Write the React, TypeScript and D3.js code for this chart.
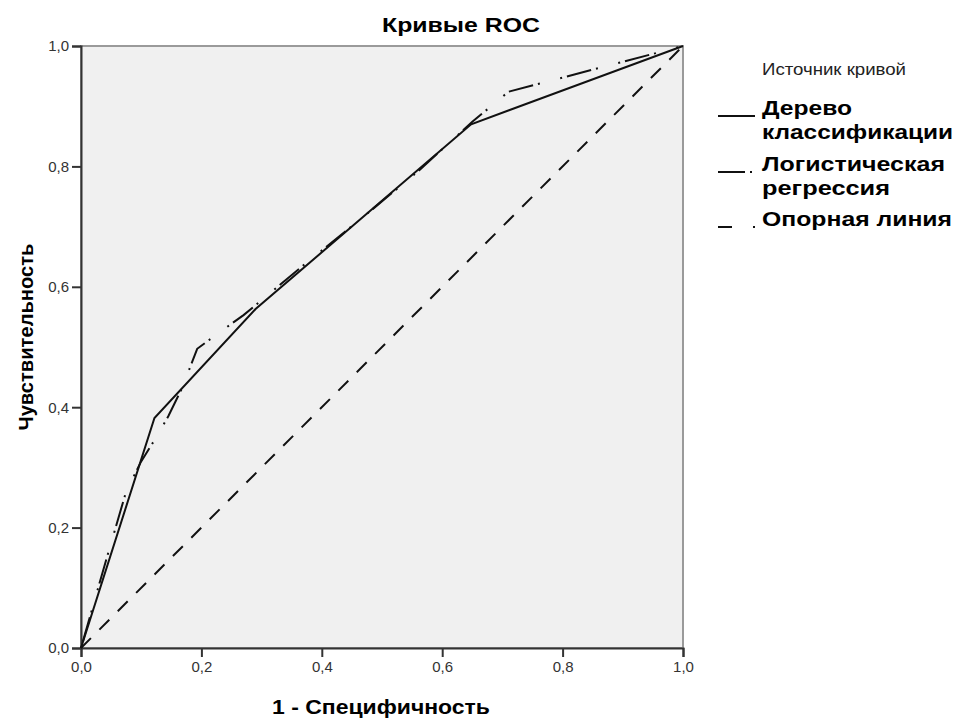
import { useRef, useEffect } from "react";
import * as d3 from "d3";

// ROC points
const treeFpr = [0, 0.122, 0.29, 0.648, 1];
const treeTpr = [0, 0.382, 0.563, 0.87, 1];
const logitFpr = [0, 0.04, 0.075, 0.1, 0.125, 0.145, 0.168, 0.193, 0.231, 0.27, 0.37, 0.47, 0.56, 0.65, 0.71, 1];
const logitTpr = [0, 0.14, 0.26, 0.31, 0.35, 0.385, 0.432, 0.497, 0.525, 0.553, 0.636, 0.717, 0.792, 0.874, 0.924, 1];
const refFpr = [0, 1];
const refTpr = [0, 1];
const tickValues = [0, 0.2, 0.4, 0.6, 0.8, 1];
const legendTitle = "Источник кривой";
const legendItems = [
  { lines: ["Дерево", "классификации"], dash: "none", sampleDash: "none" },
  { lines: ["Логистическая", "регрессия"], dash: "2,5,25,5,2,21", sampleDash: "27,5,2,10" },
  { lines: ["Опорная линия"], dash: "14,12", sampleDash: "14,21,2" },
];

const FONT = "'Liberation Sans', Arial, sans-serif";

const App = () => {
  const svgRef = useRef(null);

  useEffect(() => {
    const width = 960;
    const height = 719;
    const svg = d3.select(svgRef.current).attr("width", width).attr("height", height);
    svg.selectAll("*").remove();

    // scaling
    const xScale = d3.scaleLinear().domain([0, 1]).range([81, 683]);
    const yScale = d3.scaleLinear().domain([0, 1]).range([648, 46]);
    const fmt = (d) => d3.format(".1f")(d).replace(".", ",");

    // plot background + grey frame on top / right
    svg
      .append("rect")
      .attr("x", xScale(0))
      .attr("y", yScale(1))
      .attr("width", xScale(1) - xScale(0))
      .attr("height", yScale(0) - yScale(1))
      .attr("fill", "#f0f0f0")
      .attr("stroke", "#9a9a9a")
      .attr("stroke-width", 2);

    // axes
    const xAxis = d3.axisBottom(xScale).tickValues(tickValues).tickFormat(fmt).tickSize(9).tickPadding(4);
    const yAxis = d3.axisLeft(yScale).tickValues(tickValues).tickFormat(fmt).tickSize(9).tickPadding(3);
    const gx = svg.append("g").attr("transform", `translate(0,${yScale(0)})`).call(xAxis);
    const gy = svg.append("g").attr("transform", `translate(${xScale(0)},0)`).call(yAxis);
    [gx, gy].forEach((g) => {
      g.select(".domain").attr("stroke", "#333").attr("stroke-width", 2);
      g.selectAll(".tick line").attr("stroke", "#333").attr("stroke-width", 2);
      g.selectAll(".tick text").attr("fill", "#333").style("font-family", FONT).style("font-size", "15px");
    });

    // curves
    const line = d3
      .line()
      .x((d) => xScale(d[0]))
      .y((d) => yScale(d[1]));
    const series = [
      { pts: d3.zip(refFpr, refTpr), dash: legendItems[2].dash },
      { pts: d3.zip(logitFpr, logitTpr), dash: legendItems[1].dash },
      { pts: d3.zip(treeFpr, treeTpr), dash: legendItems[0].dash },
    ];
    svg
      .selectAll(".curve")
      .data(series)
      .join("path")
      .attr("class", "curve")
      .attr("d", (d) => line(d.pts))
      .attr("fill", "none")
      .attr("stroke", "#111")
      .attr("stroke-width", 2)
      .attr("stroke-dasharray", (d) => d.dash);

    // titles
    svg
      .append("text")
      .attr("x", 461)
      .attr("y", 32)
      .attr("text-anchor", "middle")
      .attr("textLength", 158)
      .attr("lengthAdjust", "spacingAndGlyphs")
      .style("font-family", FONT)
      .style("font-weight", "bold")
      .style("font-size", "21px")
      .text("Кривые ROC");
    svg
      .append("text")
      .attr("x", 381)
      .attr("y", 714)
      .attr("text-anchor", "middle")
      .attr("textLength", 218)
      .attr("lengthAdjust", "spacingAndGlyphs")
      .style("font-family", FONT)
      .style("font-weight", "bold")
      .style("font-size", "21px")
      .text("1 - Специфичность");
    svg
      .append("text")
      .attr("transform", "translate(33,337) rotate(-90)")
      .attr("text-anchor", "middle")
      .attr("textLength", 187)
      .attr("lengthAdjust", "spacingAndGlyphs")
      .style("font-family", FONT)
      .style("font-weight", "bold")
      .style("font-size", "21px")
      .text("Чувствительность");

    // legend
    const lg = svg.append("g");
    lg.append("text")
      .attr("x", 762)
      .attr("y", 75)
      .attr("textLength", 144)
      .attr("lengthAdjust", "spacingAndGlyphs")
      .attr("fill", "#222")
      .style("font-family", FONT)
      .style("font-size", "16px")
      .text(legendTitle);
    const baselines = [115, 171, 226];
    const widths = [[90, 191], [183, 128], [190]];
    legendItems.forEach((item, i) => {
      const by = baselines[i];
      lg.append("line")
        .attr("x1", 718)
        .attr("x2", 755)
        .attr("y1", by + 1)
        .attr("y2", by + 1)
        .attr("stroke", "#111")
        .attr("stroke-width", 2)
        .attr("stroke-dasharray", item.sampleDash);
      item.lines.forEach((t, j) => {
        lg.append("text")
          .attr("x", 762)
          .attr("y", by + j * 24)
          .attr("textLength", widths[i][j])
          .attr("lengthAdjust", "spacingAndGlyphs")
          .style("font-family", FONT)
          .style("font-weight", "bold")
          .style("font-size", "21px")
          .text(t);
      });
    });
  }, []);

  return <svg ref={svgRef} style={{ position: "absolute", left: 0, top: 0 }}></svg>;
};

export default App;
